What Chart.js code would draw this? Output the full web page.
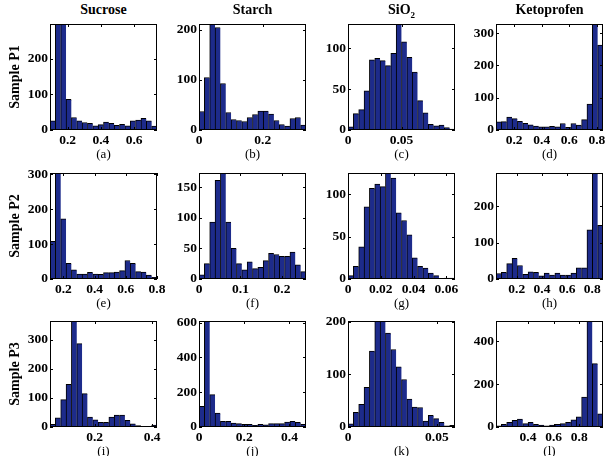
<!DOCTYPE html>
<html>
<head>
<meta charset="utf-8">
<script src="https://cdn.jsdelivr.net/npm/chart.js@4.4.1/dist/chart.umd.min.js"></script>
<style>
    body { margin: 0; background: #fff; }
    #page { position: relative; width: 613px; height: 456px; overflow: hidden; font-family: 'Liberation Serif', 'Times New Roman', serif; }
    canvas { position: absolute; }
    .title { position: absolute; font-weight: bold; font-size: 14px; line-height: 16px; text-align: center; }
    .tag { position: absolute; font-size: 13px; line-height: 16px; text-align: center; }
    .ylab { position: absolute; font-weight: bold; font-size: 14px; line-height: 16px; width: 100px; text-align: center; transform: rotate(-90deg); white-space: nowrap; }
    sub { font-size: 9px; }
</style>
</head>
<body>
<div id="page"></div>
<script>
// column / row labels
const materials = ['Sucrose', 'Starch', 'SiO<sub>2</sub>', 'Ketoprofen'];
const samples = ['Sample P1', 'Sample P2', 'Sample P3'];
const tags = ['(a)', '(b)', '(c)', '(d)', '(e)', '(f)', '(g)', '(h)', '(i)', '(j)', '(k)', '(l)'];

// histogram counts, 20 bins each
const sucroseP1 = [26, 297, 297, 86, 35, 26, 21, 19, 12, 15, 22, 19, 13, 16, 12, 26, 28, 33, 26, 11];
const starchP1 = [37, 105, 212, 205, 93, 35, 21, 19, 17, 25, 31, 38, 38, 32, 19, 11, 8, 23, 25, 10];
const sio2P1 = [4, 20, 25, 48, 86, 88, 85, 79, 94, 130, 108, 89, 71, 36, 21, 7, 5, 6, 3, 1];
const ketoP1 = [25, 26, 40, 35, 27, 21, 16, 12, 10, 10, 11, 10, 20, 8, 20, 15, 32, 80, 328, 263];

const sucroseP2 = [108, 303, 172, 45, 26, 14, 14, 19, 14, 13, 18, 18, 20, 24, 53, 45, 21, 20, 11, 5];
const starchP2 = [7, 25, 93, 161, 173, 93, 50, 25, 15, 28, 17, 19, 30, 42, 40, 37, 37, 44, 23, 12];
const sio2P2 = [4, 15, 38, 85, 107, 112, 109, 125, 119, 78, 69, 52, 25, 15, 13, 7, 4, 0, 1, 1];
const ketoP2 = [15, 18, 42, 57, 37, 13, 20, 18, 9, 16, 11, 16, 11, 11, 16, 31, 31, 135, 291, 147];

const sucroseP3 = [9, 32, 94, 147, 365, 287, 115, 34, 25, 16, 16, 34, 41, 41, 23, 11, 5, 2, 2, 7];
const starchP3 = [119, 610, 186, 80, 33, 33, 23, 19, 15, 15, 10, 15, 13, 19, 19, 19, 29, 33, 27, 15];
const sio2P3 = [6, 28, 43, 75, 144, 201, 201, 178, 147, 114, 90, 53, 38, 37, 11, 22, 16, 9, 2, 3];
const ketoP3 = [6, 12, 22, 31, 37, 16, 22, 12, 9, 6, 9, 12, 16, 22, 34, 47, 140, 495, 296, 62];

// data range covered by the bins (x limits)
const binRangeP1 = [[0.094, 0.738], [0, 0.336], [0, 0.1], [0.069, 0.844]];
const binRangeP2 = [[0.114, 0.8], [0, 0.258], [0, 0.0653], [0.035, 0.885]];
const binRangeP3 = [[0.045, 0.417], [0, 0.473], [0, 0.0602], [0.15, 0.985]];

// y limits
const yMaxP1 = [297, 212, 130, 328];
const yMaxP2 = [303, 173, 125, 291];
const yMaxP3 = [365, 610, 201, 495];

// tick labels
const xTicksP1 = [[0.2, 0.4, 0.6], [0, 0.2], [0, 0.05], [0.2, 0.4, 0.6, 0.8]];
const xTicksP2 = [[0.2, 0.4, 0.6, 0.8], [0, 0.1, 0.2], [0, 0.02, 0.04, 0.06], [0.2, 0.4, 0.6, 0.8]];
const xTicksP3 = [[0.2, 0.4], [0, 0.2, 0.4], [0, 0.05], [0.4, 0.6, 0.8]];
const yTicksP1 = [[0, 100, 200], [0, 100, 200], [0, 50, 100], [0, 100, 200, 300]];
const yTicksP2 = [[0, 100, 200, 300], [0, 50, 100, 150], [0, 50, 100], [0, 100, 200]];
const yTicksP3 = [[0, 100, 200, 300], [0, 200, 400, 600], [0, 100, 200], [0, 200, 400]];

const counts = [
    [sucroseP1, starchP1, sio2P1, ketoP1],
    [sucroseP2, starchP2, sio2P2, ketoP2],
    [sucroseP3, starchP3, sio2P3, ketoP3]
];
const binRanges = [binRangeP1, binRangeP2, binRangeP3];
const yMaxes = [yMaxP1, yMaxP2, yMaxP3];
const xTicks = [xTicksP1, xTicksP2, xTicksP3];
const yTicks = [yTicksP1, yTicksP2, yTicksP3];

// layout
const colLeft = [50, 199, 348, 496];
const rowTop = [24, 173, 321];
const plotW = 107, plotH = 106;
const PAD_L = 40, PAD_R = 14, PAD_T = 6, PAD_B = 22;
const barColor = '#1d2b8b';
const tickFont = { family: "'Liberation Serif', 'Times New Roman', serif", size: 13.5, weight: 'bold' };

const page = document.getElementById('page');

// box + inward tick marks, matlab style
const framePlugin = {
    id: 'frame',
    afterDraw(chart) {
        const { ctx, chartArea: a, scales: { x, y } } = chart;
        ctx.save();
        ctx.strokeStyle = '#000';
        ctx.lineWidth = 1;
        ctx.beginPath();
        x.ticks.forEach(t => {
            const px = Math.round(x.getPixelForValue(t.value)) + 0.5;
            ctx.moveTo(px, a.bottom); ctx.lineTo(px, a.bottom - 3);
            ctx.moveTo(px, a.top); ctx.lineTo(px, a.top + 3);
        });
        y.ticks.forEach(t => {
            const py = Math.round(y.getPixelForValue(t.value)) + 0.5;
            ctx.moveTo(a.left, py); ctx.lineTo(a.left + 3, py);
            ctx.moveTo(a.right, py); ctx.lineTo(a.right - 3, py);
        });
        ctx.stroke();
        ctx.strokeRect(a.left + 0.5, a.top + 0.5, a.right - a.left - 1, a.bottom - a.top - 1);
        ctx.restore();
    }
};

function addText(cls, html, left, top, width) {
    const d = document.createElement('div');
    d.className = cls;
    d.innerHTML = html;
    d.style.left = left + 'px';
    d.style.top = top + 'px';
    if (width) d.style.width = width + 'px';
    page.appendChild(d);
}

function makePanel(row, col) {
    const data = counts[row][col];
    const [lo, hi] = binRanges[row][col];
    const w = (hi - lo) / data.length;
    const points = data.map((c, i) => ({ x: lo + (i + 0.5) * w, y: c }));
    const xt = xTicks[row][col];
    const yt = yTicks[row][col];

    const canvas = document.createElement('canvas');
    canvas.width = PAD_L + plotW + PAD_R;
    canvas.height = PAD_T + plotH + PAD_B;
    canvas.style.left = (colLeft[col] - PAD_L) + 'px';
    canvas.style.top = (rowTop[row] - PAD_T) + 'px';
    page.appendChild(canvas);

    new Chart(canvas.getContext('2d'), {
        type: 'bar',
        data: {
            datasets: [{
                data: points,
                backgroundColor: barColor,
                borderColor: '#000',
                borderWidth: { top: 1, left: 1, right: 0, bottom: 0 },
                borderSkipped: false,
                barPercentage: 1,
                categoryPercentage: 1
            }]
        },
        options: {
            responsive: false,
            animation: false,
            events: [],
            layout: { padding: { top: PAD_T, right: PAD_R, left: 0, bottom: 0 } },
            plugins: { legend: { display: false }, tooltip: { enabled: false } },
            scales: {
                x: {
                    type: 'linear',
                    min: lo,
                    max: hi,
                    offset: false,
                    grid: { display: false, drawTicks: false },
                    border: { display: false },
                    afterBuildTicks: s => { s.ticks = xt.map(v => ({ value: v })); },
                    afterFit: s => { s.height = PAD_B; s.paddingLeft = 0; s.paddingRight = 0; },
                    ticks: { padding: 2, font: tickFont, color: '#000', maxRotation: 0, autoSkip: false, callback: v => String(v) }
                },
                y: {
                    min: 0,
                    max: yMaxes[row][col],
                    grid: { display: false, drawTicks: false },
                    border: { display: false },
                    afterBuildTicks: s => { s.ticks = yt.map(v => ({ value: v })); },
                    afterFit: s => { s.width = PAD_L; s.paddingTop = 0; s.paddingBottom = 0; },
                    ticks: { padding: 2, font: tickFont, color: '#000', autoSkip: false, callback: v => String(v) }
                }
            }
        },
        plugins: [framePlugin]
    });
}

for (let r = 0; r < 3; r++) {
    for (let c = 0; c < 4; c++) {
        makePanel(r, c);
        addText('tag', tags[r * 4 + c], colLeft[c], rowTop[r] + plotH + 16, plotW);
    }
    addText('ylab', samples[r], 15 - 50, rowTop[r] + plotH / 2 - 8);
}
materials.forEach((m, c) => addText('title', m, colLeft[c] - 10, 2, plotW + 20));
</script>
</body>
</html>
